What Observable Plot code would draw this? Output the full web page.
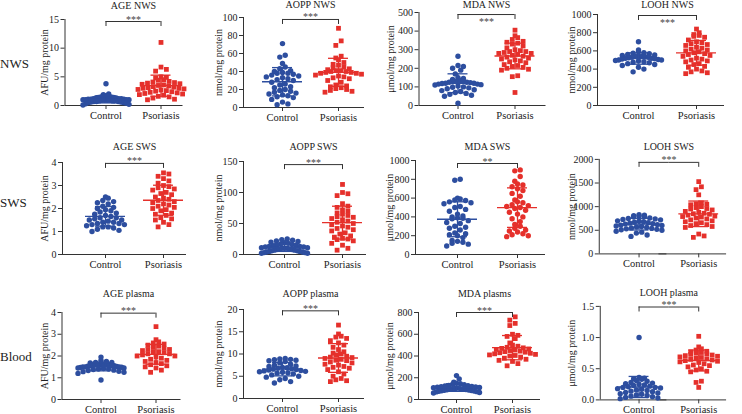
<!DOCTYPE html>
<html><head><meta charset="utf-8">
<script src="https://cdn.jsdelivr.net/npm/d3@7"></script>
<script src="https://cdn.jsdelivr.net/npm/@observablehq/plot@0.6"></script>
<style>
html,body{margin:0;padding:0;background:#fff;}
#chart{position:relative;width:742px;height:414px;overflow:hidden;font-family:"Liberation Serif",serif;background:#fff;}
.row-label{position:absolute;left:0;font-size:13px;color:#222;transform:translateY(-50%);line-height:1;}
.panel{position:absolute;}
.panel svg{overflow:visible;}
</style></head><body><div id="chart"></div>
<script>
// ---------- data ----------
const groups = ["Control", "Psoriasis"];
const rowLabels = ["NWS", "SWS", "Blood"];
const titles = ["AGE NWS", "AOPP NWS", "MDA NWS", "LOOH NWS",
                "AGE SWS", "AOPP SWS", "MDA SWS", "LOOH SWS",
                "AGE plasma", "AOPP plasma", "MDA plasms", "LOOH plasma"];
const yLabels = ["AFU/mg protein", "nmol/mg protein", "μmol/mg protein", "nmol/mg protein",
                 "AFU/mg protein", "nmol/mg protein", "μmol/mg protein", "nmol/mg protein",
                 "AFU/mg protein", "nmol/mg protein", "μmol/mg protein", "μmol/mg protein"];
const tickValues = [
  [0, 5, 10, 15], [0, 20, 40, 60, 80, 100], [0, 100, 200, 300, 400, 500], [0, 200, 400, 600, 800, 1000],
  [0, 1, 2, 3, 4], [0, 50, 100, 150], [0, 200, 400, 600, 800, 1000], [0, 500, 1000, 1500, 2000],
  [0, 1, 2, 3, 4], [0, 5, 10, 15, 20], [0, 200, 400, 600, 800], [0, 0.5, 1.0, 1.5]
];
const significance = ["***", "***", "***", "***", "***", "***", "**", "***", "***", "***", "***", "***"];
const bracketLevels = [14.65, 97.8, 489, 989, 3.96, 145, 968, 1937, 3.97, 19.7, 800, 1.49];
const psoriasisSymbols = ["square", "square", "square", "square", "square", "square", "circle", "square", "square", "square", "square", "square"];

const ageNwsControl = [3.8, 2.0, 1.9, 1.7, 1.6, 1.6, 1.5, 1.5, 1.4, 1.4, 1.3, 1.3, 1.2, 1.2, 1.2, 1.1, 1.1, 1.1, 1.0, 1.0, 1.0, 1.0, 0.9, 0.9, 0.9, 0.9, 0.8, 0.8, 0.8, 0.7, 0.7, 0.7, 0.6, 0.6, 0.5, 0.5, 0.4, 0.3, 0.2, 0.1];
const ageNwsPsoriasis = [11.0, 6.7, 6.3, 6.0, 5.0, 4.9, 4.8, 4.5, 4.4, 4.2, 4.1, 4.0, 3.9, 3.8, 3.7, 3.6, 3.5, 3.4, 3.3, 3.2, 3.1, 3.0, 3.0, 2.9, 2.8, 2.7, 2.6, 2.5, 2.4, 2.3, 2.2, 2.1, 2.0, 1.9, 1.8, 1.6, 1.5, 1.3, 1.1, 1.0];
const aoppNwsControl = [71, 58, 56, 49, 45, 43, 41, 40, 39, 38, 38, 37, 36, 35, 34, 33, 32, 31, 30, 28, 26, 25, 23, 22, 20, 19, 18, 17, 16, 15, 14, 13, 12, 11, 9, 6, 4, 3];
const aoppNwsPsoriasis = [88, 74, 69, 57, 55, 53, 50, 48, 47, 45, 44, 43, 42, 41, 41, 40, 40, 39, 39, 38, 38, 37, 36, 35, 34, 33, 32, 30, 28, 25, 24, 23, 22, 21, 20, 19, 18, 17];
const mdaNwsControl = [265, 215, 210, 200, 190, 170, 150, 145, 140, 135, 130, 130, 128, 125, 125, 123, 120, 120, 118, 115, 115, 112, 110, 105, 100, 98, 95, 90, 85, 80, 75, 70, 65, 60, 55, 50, 12];
const mdaNwsPsoriasis = [405, 375, 365, 355, 345, 340, 335, 330, 320, 310, 300, 295, 290, 290, 285, 280, 280, 275, 270, 265, 260, 255, 250, 245, 240, 235, 230, 220, 215, 210, 205, 200, 195, 190, 160, 155, 70];
const loohNwsControl = [700, 610, 590, 580, 575, 570, 560, 555, 550, 545, 540, 540, 535, 530, 530, 525, 520, 520, 515, 510, 505, 500, 500, 495, 490, 480, 475, 470, 460, 450, 440, 420, 400, 370];
const loohNwsPsoriasis = [840, 800, 780, 770, 760, 750, 720, 700, 690, 680, 670, 660, 640, 630, 620, 610, 600, 590, 580, 570, 560, 550, 540, 520, 510, 500, 490, 480, 460, 450, 430, 420, 400, 380, 370, 360, 350];

const ageSwsControl = [2.5, 2.45, 2.35, 2.3, 2.25, 2.2, 2.1, 2.05, 2.0, 1.95, 1.9, 1.85, 1.8, 1.75, 1.7, 1.65, 1.6, 1.6, 1.55, 1.5, 1.5, 1.45, 1.4, 1.4, 1.35, 1.35, 1.3, 1.3, 1.25, 1.2, 1.2, 1.15, 1.1, 1.05, 1.0];
const ageSwsPsoriasis = [3.55, 3.5, 3.4, 3.3, 3.2, 3.1, 3.0, 2.95, 2.9, 2.85, 2.8, 2.7, 2.65, 2.6, 2.5, 2.45, 2.4, 2.35, 2.3, 2.25, 2.2, 2.15, 2.1, 2.05, 2.0, 1.95, 1.9, 1.8, 1.75, 1.7, 1.6, 1.55, 1.5, 1.4, 1.3, 1.2];
const aoppSwsControl = [25, 24, 23, 22, 21, 20, 19, 18, 17, 16, 15, 15, 14, 13, 13, 12, 12, 11, 11, 10, 10, 10, 9, 9, 8, 8, 7, 7, 6, 6, 5, 5, 4, 4, 3, 3, 2, 2];
const aoppSwsPsoriasis = [113, 100, 98, 95, 82, 78, 76, 72, 70, 67, 65, 63, 61, 60, 58, 56, 54, 52, 50, 48, 46, 44, 42, 40, 38, 35, 33, 30, 28, 26, 25, 24, 22, 18, 15, 10, 7];
const mdaSwsControl = [800, 790, 600, 590, 580, 575, 560, 550, 540, 510, 500, 480, 460, 430, 410, 400, 390, 385, 380, 360, 340, 330, 300, 290, 280, 260, 230, 220, 210, 200, 180, 150, 140, 130, 120, 110, 90];
const mdaSwsPsoriasis = [900, 890, 830, 780, 750, 740, 720, 700, 680, 650, 620, 580, 560, 550, 530, 520, 510, 500, 490, 470, 450, 430, 400, 380, 350, 320, 300, 280, 260, 250, 240, 220, 210, 200, 190];
const loohSwsControl = [830, 820, 810, 800, 790, 780, 760, 750, 740, 730, 720, 700, 690, 680, 670, 660, 650, 640, 630, 620, 610, 600, 590, 580, 570, 560, 550, 540, 530, 520, 510, 500, 480, 460, 440, 400, 370];
const loohSwsPsoriasis = [1530, 1420, 1360, 1250, 1080, 1060, 1050, 1040, 1000, 980, 960, 950, 930, 900, 880, 860, 850, 840, 820, 800, 790, 780, 760, 740, 720, 700, 680, 660, 640, 620, 600, 580, 560, 420, 380, 350];

const agePlasmaControl = [1.95, 1.8, 1.75, 1.7, 1.7, 1.68, 1.65, 1.65, 1.62, 1.6, 1.6, 1.6, 1.58, 1.57, 1.55, 1.55, 1.55, 1.53, 1.52, 1.5, 1.5, 1.5, 1.48, 1.47, 1.45, 1.45, 1.42, 1.4, 1.4, 1.38, 1.35, 1.33, 1.3, 1.28, 1.25, 1.2, 0.9];
const agePlasmaPsoriasis = [3.35, 2.75, 2.65, 2.6, 2.55, 2.5, 2.45, 2.4, 2.35, 2.3, 2.3, 2.25, 2.2, 2.2, 2.15, 2.1, 2.1, 2.05, 2.0, 2.0, 1.95, 1.9, 1.85, 1.8, 1.75, 1.7, 1.65, 1.6, 1.55, 1.5, 1.45, 1.35, 1.25];
const aoppPlasmaControl = [9.0, 8.9, 8.8, 8.7, 8.6, 8.5, 8.3, 8.0, 7.7, 7.5, 7.3, 7.2, 7.0, 6.9, 6.8, 6.7, 6.6, 6.5, 6.4, 6.3, 6.2, 6.1, 6.0, 5.9, 5.8, 5.7, 5.5, 5.3, 5.0, 4.8, 4.5, 4.2, 3.8, 3.5];
const aoppPlasmaPsoriasis = [16.5, 14.5, 14.0, 13.8, 13.5, 13.0, 12.5, 12.0, 11.5, 11.0, 10.5, 10.2, 10.0, 9.8, 9.5, 9.3, 9.2, 9.0, 8.8, 8.6, 8.5, 8.2, 8.0, 7.7, 7.5, 7.2, 7.0, 6.8, 6.5, 6.0, 5.5, 5.0, 4.5, 4.2, 4.0, 3.8];
const mdaPlasmaControl = [220, 190, 160, 150, 145, 140, 135, 130, 128, 125, 120, 118, 115, 112, 110, 108, 105, 102, 100, 100, 98, 95, 92, 90, 88, 85, 82, 80, 78, 75, 72, 70, 65, 60];
const mdaPlasmaPsoriasis = [760, 730, 700, 680, 600, 590, 580, 560, 520, 500, 490, 480, 475, 470, 465, 460, 455, 450, 445, 440, 435, 430, 425, 420, 415, 410, 405, 400, 390, 380, 370, 360, 350, 330, 310];
const loohPlasmaControl = [1.0, 0.36, 0.35, 0.34, 0.33, 0.31, 0.3, 0.28, 0.27, 0.26, 0.25, 0.24, 0.23, 0.22, 0.21, 0.2, 0.2, 0.19, 0.18, 0.17, 0.16, 0.15, 0.14, 0.13, 0.12, 0.11, 0.1, 0.09, 0.08, 0.07, 0.06, 0.05, 0.04, 0.03, 0.02];
const loohPlasmaPsoriasis = [1.02, 0.85, 0.82, 0.8, 0.78, 0.77, 0.76, 0.75, 0.74, 0.73, 0.72, 0.71, 0.7, 0.69, 0.68, 0.67, 0.66, 0.65, 0.64, 0.63, 0.62, 0.61, 0.6, 0.58, 0.56, 0.55, 0.53, 0.5, 0.48, 0.46, 0.45, 0.3, 0.28, 0.2];

const controlValues = [ageNwsControl, aoppNwsControl, mdaNwsControl, loohNwsControl,
  ageSwsControl, aoppSwsControl, mdaSwsControl, loohSwsControl,
  agePlasmaControl, aoppPlasmaControl, mdaPlasmaControl, loohPlasmaControl];
const psoriasisValues = [ageNwsPsoriasis, aoppNwsPsoriasis, mdaNwsPsoriasis, loohNwsPsoriasis,
  ageSwsPsoriasis, aoppSwsPsoriasis, mdaSwsPsoriasis, loohSwsPsoriasis,
  agePlasmaPsoriasis, aoppPlasmaPsoriasis, mdaPlasmaPsoriasis, loohPlasmaPsoriasis];

// ---------- layout (pixels) ----------
const layout = [
  {L: 64, T: 19, B: 105, c1: 105, c2: 160, R: 182, labelX: 44, titleY: 5},
  {L: 243, T: 17, B: 107, c1: 282, c2: 338, R: 364, labelX: 218, titleY: 4},
  {L: 418, T: 12, B: 105, c1: 457, c2: 514, R: 545, labelX: 390, titleY: 4},
  {L: 597, T: 14, B: 105, c1: 638, c2: 696, R: 724, labelX: 571, titleY: 4},
  {L: 62, T: 162, B: 254, c1: 105, c2: 163, R: 186, labelX: 44, titleY: 146},
  {L: 243, T: 161, B: 254, c1: 284, c2: 342, R: 366, labelX: 218, titleY: 146},
  {L: 415, T: 160, B: 254, c1: 457, c2: 517, R: 545, labelX: 389, titleY: 146},
  {L: 599, T: 159, B: 254, c1: 639, c2: 699, R: 727, labelX: 571, titleY: 146},
  {L: 61, T: 312, B: 399, c1: 100, c2: 155, R: 180, labelX: 44, titleY: 293},
  {L: 243, T: 309, B: 398, c1: 282, c2: 338, R: 364, labelX: 218, titleY: 293},
  {L: 418, T: 312, B: 399, c1: 456, c2: 512, R: 540, labelX: 389, titleY: 293},
  {L: 600, T: 306, B: 400, c1: 639, c2: 699, R: 727, labelX: 571, titleY: 292}
];
const colX0 = [20, 200, 375, 555];
const rowY0 = [0, 140, 286];
const rowLabelY = [63, 202, 356];
const starsBelow = [false, false, true, true, false, false, false, false, false, false, false, false];

const blue = "#2d4e9f", red = "#e5302b", ink = "#333";
const chart = document.getElementById("chart");

// Scatter-dot layout: points whose values are close (within one row height)
// are set side by side, centred on the category, as in a column scatter plot.
function scatterOffsets(values, pxPerUnit) {
  const rowH = 5, step = 5.4, maxW = 46;
  const order = d3.range(values.length).sort((a, b) => values[a] - values[b]);
  const offsets = new Array(values.length).fill(0);
  let row = [], start = null;
  const flush = () => {
    const n = row.length;
    const sp = n > 1 ? Math.min(step, maxW / (n - 1)) : 0;
    const slots = d3.range(n).map(j => (j % 2 === 0 ? j / 2 : n - 1 - (j - 1) / 2));
    row.forEach((idx, j) => { offsets[idx] = (slots[j] - (n - 1) / 2) * sp; });
    row = [];
  };
  for (const idx of order) {
    const p = values[idx] * pxPerUnit;
    if (start === null || p - start > rowH) { flush(); start = p; }
    row.push(idx);
  }
  flush();
  return offsets;
}

for (let i = 0; i < 12; i++) {
  const lay = layout[i];
  const col = i % 4, row = Math.floor(i / 4);
  const x0 = colX0[col], y0 = rowY0[row];
  const d = lay.c2 - lay.c1;
  const frameL = lay.c1 - d / 2, frameR = lay.c2 + d / 2;
  const offL = frameL - lay.L, offR = frameR - lay.R;
  const mL = frameL - x0, mT = lay.T - y0, mB = 24, mR = 14;
  const width = frameR + mR - x0, height = lay.B + mB - y0;
  const ctrl = controlValues[i], pso = psoriasisValues[i];
  const yMax = d3.max(tickValues[i]);
  const pxPerUnit = (lay.B - lay.T) / yMax;
  const ctrlOff = scatterOffsets(ctrl, pxPerUnit);
  const psoOff = scatterOffsets(pso, pxPerUnit);
  const ctrlPts = ctrl.map((v, k) => ({group: "Control", value: v, off: ctrlOff[k]}));
  const psoPts = pso.map((v, k) => ({group: "Psoriasis", value: v, off: psoOff[k]}));
  const stats = groups.map((g, k) => {
    const vals = k ? pso : ctrl;
    return {group: g, mean: d3.mean(vals), sd: d3.deviation(vals)};
  });
  const sig = bracketLevels[i];

  const svg = Plot.plot({
    width, height, marginLeft: mL, marginRight: mR, marginTop: mT, marginBottom: mB,
    style: {fontFamily: "'Liberation Serif', serif", fontSize: "10px", background: "transparent", color: "#222", overflow: "visible"},
    fx: {domain: groups, padding: 0},
    x: {domain: [-d / 2, d / 2], axis: null},
    y: {domain: [0, yMax]},
    color: {domain: groups, range: [blue, red]},
    marks: [
      Plot.ruleY([0], {stroke: ink, insetLeft: -offL, insetRight: offR}),
      Plot.ruleX([{fx: "Control", y1: 0, y2: yMax}], {x: null, fx: "fx", y1: "y1", y2: "y2", dx: -(d / 2 + offL), stroke: ink}),
      Plot.axisY(tickValues[i], {tickSize: 4, tickPadding: 2, dx: -offL, stroke: ink, label: null,
        tickFormat: i === 11 ? d3.format(".1f") : d3.format("d"), fontSize: 10}),
      Plot.axisFx({anchor: "bottom", tickSize: 4, tickPadding: 2, label: null, fontSize: 10.5, stroke: ink}),
      Plot.text([{fx: "Control", t: yLabels[i]}], {fx: "fx", text: "t", frameAnchor: "left", rotate: -90,
        dx: lay.labelX - frameL, textAnchor: "middle", lineAnchor: "middle", fontSize: 10}),
      Plot.text([{fx: "Control", t: titles[i]}], {fx: "fx", text: "t", frameAnchor: "top-right",
        dy: lay.titleY - lay.T, textAnchor: "middle", lineAnchor: "middle", fontSize: 10}),
      Plot.dot(ctrlPts, {fx: "group", x: "off", y: "value", r: 2.7, fill: "group", symbol: "circle"}),
      Plot.dot(psoPts, {fx: "group", x: "off", y: "value", r: 2.7, fill: "group", symbol: psoriasisSymbols[i]}),
      Plot.ruleY(stats, {fx: "group", y: "mean", stroke: "group", strokeWidth: 1.3, insetLeft: d / 2 - 20, insetRight: d / 2 - 20}),
      Plot.ruleY(stats, {fx: "group", y: s => s.mean + s.sd, stroke: "group", strokeWidth: 1.3, insetLeft: d / 2 - 10, insetRight: d / 2 - 10}),
      Plot.ruleY(stats, {fx: "group", y: s => Math.max(0, s.mean - s.sd), stroke: "group", strokeWidth: 1.3, insetLeft: d / 2 - 10, insetRight: d / 2 - 10}),
      Plot.ruleX(stats, {fx: "group", x: null, y1: s => Math.max(0, s.mean - s.sd), y2: s => s.mean + s.sd, stroke: "group", strokeWidth: 1.3}),
      Plot.ruleY([{group: "Control", y: sig}], {fx: "group", y: "y", insetLeft: d / 2, stroke: ink}),
      Plot.ruleY([{group: "Psoriasis", y: sig}], {fx: "group", y: "y", insetRight: d / 2, stroke: ink}),
      Plot.ruleX([{group: "Control", y: sig}, {group: "Psoriasis", y: sig}], {fx: "group", x: null, y1: "y", y2: "y", insetBottom: -5, stroke: ink}),
      Plot.text([{fx: "Control", y: sig, t: significance[i]}], {fx: "fx", y: "y", text: "t", frameAnchor: "right",
        textAnchor: "middle", lineAnchor: "bottom", dy: starsBelow[i] ? 10 : 1, fontSize: 10, fill: "#444"})
    ]
  });
  const wrap = document.createElement("div");
  wrap.className = "panel";
  wrap.style.left = x0 + "px";
  wrap.style.top = y0 + "px";
  wrap.appendChild(svg);
  chart.appendChild(wrap);
}

rowLabels.forEach((t, r) => {
  const div = document.createElement("div");
  div.className = "row-label";
  div.textContent = t;
  div.style.top = rowLabelY[r] + "px";
  chart.appendChild(div);
});
</script>
</body></html>
